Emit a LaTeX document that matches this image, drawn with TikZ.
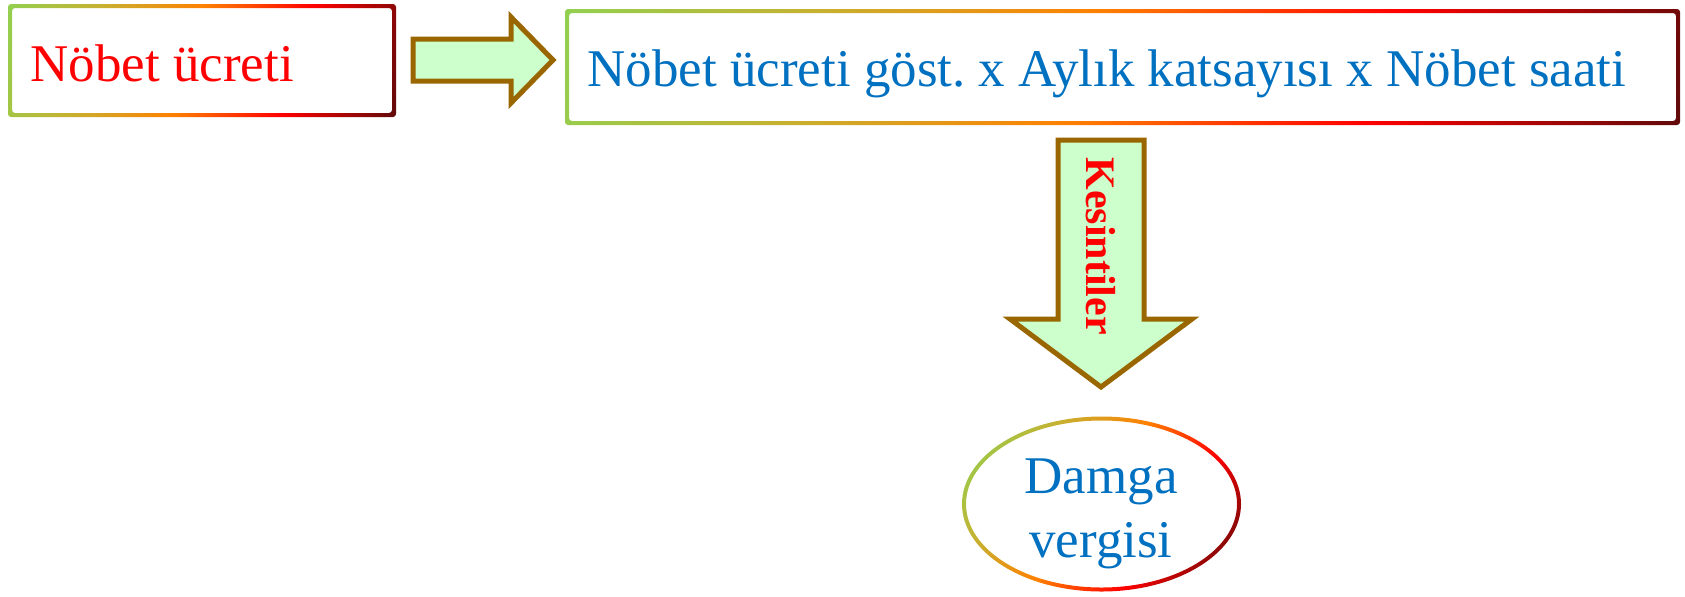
\documentclass[tikz,border=0pt]{standalone}
\usepackage{fontspec}
\setmainfont{Liberation Serif}
\frenchspacing
\definecolor{tred}{HTML}{FF0000}
\definecolor{tblue}{HTML}{0070C0}
\definecolor{arrfill}{HTML}{CCFFCC}
\definecolor{arrline}{HTML}{996600}
\definecolor{ga}{HTML}{92D050}
\definecolor{gb}{HTML}{C8B030}
\definecolor{gc}{HTML}{FF8000}
\definecolor{gd}{HTML}{FF0000}
\definecolor{ge}{HTML}{600A0A}
\pgfdeclarehorizontalshading{borderfade}{100bp}{color(0bp)=(ga); color(19bp)=(ga); color(33bp)=(gb); color(48bp)=(gc); color(64bp)=(gd); color(81bp)=(ge); color(100bp)=(ge)}
\tikzset{
  ring/.style={shading=borderfade, even odd rule},
  blockarrow/.style={fill=arrfill, draw=arrline, line width=2.5pt, line join=miter},
  bigtxt/.style={font=\fontsize{26.5pt}{32pt}\selectfont, inner sep=0pt},
  arrtxt/.style={font=\fontsize{21pt}{25pt}\selectfont\bfseries, inner sep=0pt, text=tred, rotate=-90}
}
\begin{document}
\begin{tikzpicture}[x=0.5pt, y=-0.5pt]
\useasboundingbox (0,0) rectangle (1685,596);
% box 1
\shade[ring, shading angle=-16, rounded corners=1.5pt] (8,4) rectangle (396,117) (12,8) rectangle (392,113);
\node[bigtxt, text=tred, anchor=base west] (t1) at (30,81) {Nöbet ücreti};
% right block arrow
\draw[blockarrow] (413,39) -- (511,39) -- (511,17) -- (553,60) -- (511,103) -- (511,81) -- (413,81) -- cycle;
% box 2
\shade[ring, shading angle=-16, rounded corners=1.5pt] (565,9) rectangle (1680,125) (569,13) rectangle (1676,121);
\node[bigtxt, text=tblue, anchor=base west] (t2) at (587,86) {Nöbet ücreti göst. x Aylık katsayısı x Nöbet saati};
% down block arrow
\draw[blockarrow] (1058,140) -- (1144,140) -- (1144,319) -- (1192,319) -- (1101,387) -- (1010,319) -- (1058,319) -- cycle;
\node[arrtxt] (k) at (1101,246) {Kesintiler};
% ellipse
\shade[ring, shading angle=-35] (1101.5,504) ellipse [x radius=139.5, y radius=87.5] (1101.5,504) ellipse [x radius=135.5, y radius=83.5];
\node[bigtxt, text=tblue, anchor=base] (d1) at (1101,493) {Damga};
\node[bigtxt, text=tblue, anchor=base] (d2) at (1101,557) {vergisi};
\end{tikzpicture}
\end{document}
